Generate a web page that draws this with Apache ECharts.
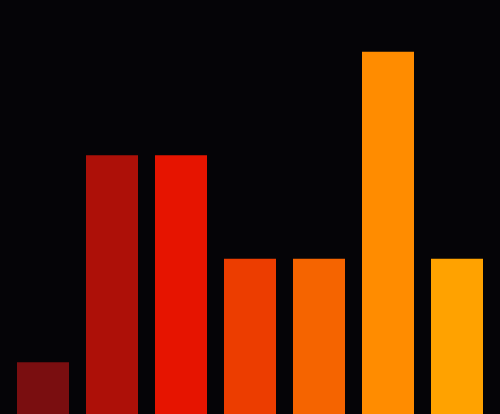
<!DOCTYPE html>
<html>
<head>
<meta charset="UTF-8">
<script src="https://cdn.jsdelivr.net/npm/echarts@6/dist/echarts.min.js"></script>
<style>
  html, body { margin: 0; padding: 0; background: #050407; }
  #chart { width: 500px; height: 414px; }
</style>
</head>
<body>
<div id="chart"></div>
<script>
  // data
  const categories = ['A', 'B', 'C', 'D', 'E', 'F', 'G'];
  const values = [1, 5, 5, 3, 3, 7, 3];
  const barColors = ['#7a0e10', '#ad1008', '#e61400', '#ec3d00', '#f56400', '#ff8c00', '#ffa200'];

  const chart = echarts.init(document.getElementById('chart'));
  chart.setOption({
    backgroundColor: '#050407',
    animation: false,
    grid: { left: 8.5, right: 8.5, top: 0, bottom: 0, containLabel: false },
    xAxis: {
      type: 'category',
      data: categories,
      show: false
    },
    yAxis: {
      type: 'value',
      min: 0,
      max: 8,
      show: false
    },
    series: [{
      type: 'bar',
      barWidth: 52,
      data: values.map((v, i) => ({ value: v, itemStyle: { color: barColors[i] } }))
    }]
  });
</script>
</body>
</html>
